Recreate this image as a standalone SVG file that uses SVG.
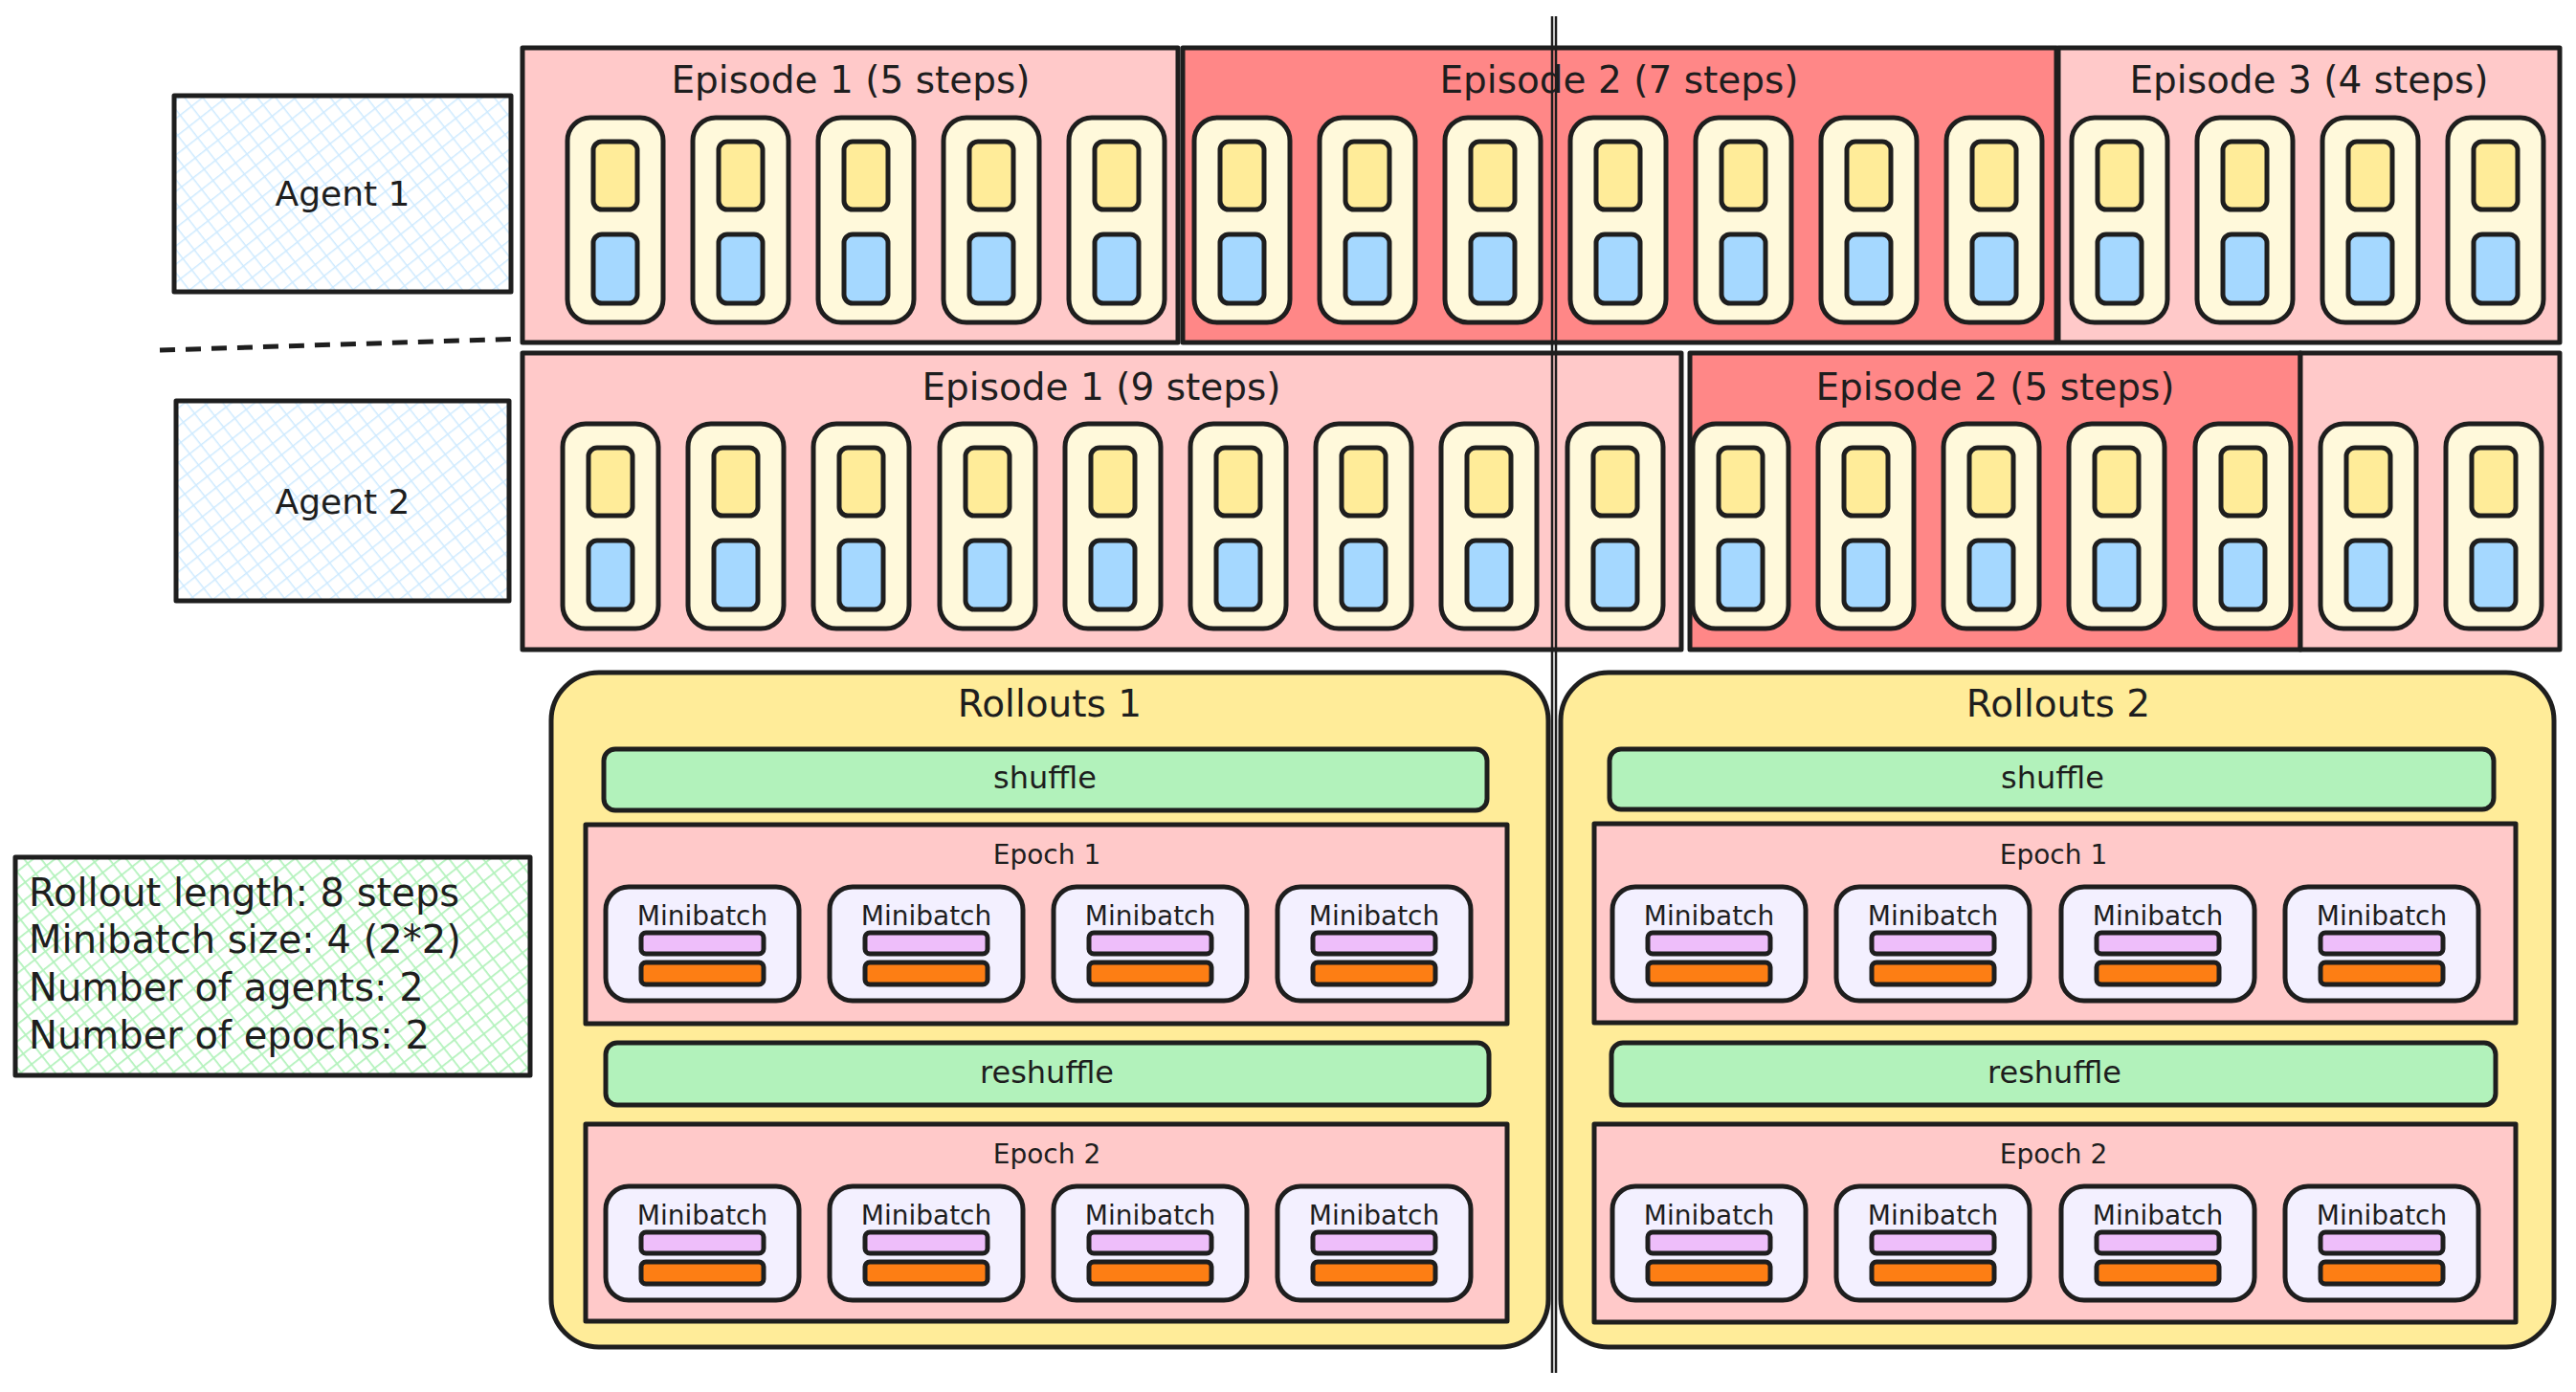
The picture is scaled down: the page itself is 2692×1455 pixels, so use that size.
<svg xmlns="http://www.w3.org/2000/svg" xmlns:xlink="http://www.w3.org/1999/xlink" width="2692" height="1455" viewBox="0 0 2692 1455">
<style>
.s{stroke:#1e1e1e;stroke-width:5;stroke-linejoin:round}
.pink{fill:#ffc9c9}.red{fill:#ff8787}.cell{fill:#fff9db}.yel{fill:#ffec99}.blu{fill:#a5d8ff}
.roll{fill:#ffec99}.grn{fill:#b2f2bb}.mb{fill:#f3f0ff}.pur{fill:#eebefa}.org{fill:#fd7e14}
text{font-family:"DejaVu Sans","Liberation Sans",sans-serif;fill:#1e1e1e;text-anchor:middle}
.t40{font-size:39px}.t36{font-size:36px}.t32{font-size:32px}.t28{font-size:28px}
.info{font-size:40px;text-anchor:start}
</style>
<defs>
<pattern id="hB" patternUnits="userSpaceOnUse" width="15" height="15" patternTransform="rotate(52)">
<rect width="15" height="15" fill="#ffffff"/>
<path d="M0 0H15M0 0V15" stroke="#a5d8ff" stroke-opacity="0.55" stroke-width="3"/>
</pattern>
<pattern id="hG" patternUnits="userSpaceOnUse" width="14" height="14" patternTransform="rotate(52)">
<rect width="14" height="14" fill="#ffffff"/>
<path d="M0 0H14M0 0V14" stroke="#b2f2bb" stroke-width="3.5"/>
</pattern>
<g id="cell">
<rect class="s cell" x="0" y="0" width="100" height="214" rx="24"/>
<rect class="s yel" x="27" y="25" width="46" height="71" rx="9"/>
<rect class="s blu" x="27" y="122" width="46" height="72" rx="9"/>
</g>
<g id="bars">
<rect class="s pur" x="37" y="48" width="128" height="22" rx="5"/>
<rect class="s org" x="37" y="79" width="128" height="23" rx="5"/>
</g>
</defs>
<rect width="2692" height="1455" fill="#ffffff"/>

<g id="agent1"><rect class="s" fill="url(#hB)" x="182" y="100" width="352" height="205"/><text class="t36" x="358" y="215">Agent 1</text></g>
<g id="agent2"><rect class="s" fill="url(#hB)" x="184" y="419" width="348" height="209"/><text class="t36" x="358" y="537">Agent 2</text></g>

<g id="a1-ep1"><rect class="s pink" x="546" y="50" width="685" height="308"/><text class="t40" x="889" y="97">Episode 1 (5 steps)</text></g>
<g id="a1-ep2"><rect class="s red" x="1236" y="50" width="913" height="308"/><text class="t40" x="1692" y="97">Episode 2 (7 steps)</text></g>
<g id="a1-ep3"><rect class="s pink" x="2151" y="50" width="524" height="308"/><text class="t40" x="2413" y="97">Episode 3 (4 steps)</text></g>

<g id="a2-ep1"><rect class="s pink" x="546" y="369" width="1211" height="310"/><text class="t40" x="1151" y="418">Episode 1 (9 steps)</text></g>
<g id="a2-ep2"><rect class="s red" x="1766" y="369" width="638" height="310"/><text class="t40" x="2085" y="418">Episode 2 (5 steps)</text></g>
<g id="a2-ep3"><rect class="s pink" x="2404" y="369" width="271" height="310"/></g>

<g id="a1-steps">
<use id="a1s1" href="#cell" x="593" y="123"/><use id="a1s2" href="#cell" x="724" y="123"/><use id="a1s3" href="#cell" x="855" y="123"/><use id="a1s4" href="#cell" x="986" y="123"/><use id="a1s5" href="#cell" x="1117" y="123"/>
<use id="a1s6" href="#cell" x="1248" y="123"/><use id="a1s7" href="#cell" x="1379" y="123"/><use id="a1s8" href="#cell" x="1510" y="123"/><use id="a1s9" href="#cell" x="1641" y="123"/><use id="a1s10" href="#cell" x="1772" y="123"/><use id="a1s11" href="#cell" x="1903" y="123"/><use id="a1s12" href="#cell" x="2034" y="123"/>
<use id="a1s13" href="#cell" x="2165" y="123"/><use id="a1s14" href="#cell" x="2296" y="123"/><use id="a1s15" href="#cell" x="2427" y="123"/><use id="a1s16" href="#cell" x="2558" y="123"/>
</g>
<g id="a2-steps">
<use id="a2s1" href="#cell" x="588" y="443"/><use id="a2s2" href="#cell" x="719" y="443"/><use id="a2s3" href="#cell" x="850" y="443"/><use id="a2s4" href="#cell" x="982" y="443"/><use id="a2s5" href="#cell" x="1113" y="443"/><use id="a2s6" href="#cell" x="1244" y="443"/><use id="a2s7" href="#cell" x="1375" y="443"/><use id="a2s8" href="#cell" x="1506" y="443"/><use id="a2s9" href="#cell" x="1638" y="443"/>
<use id="a2s10" href="#cell" x="1769" y="443"/><use id="a2s11" href="#cell" x="1900" y="443"/><use id="a2s12" href="#cell" x="2031" y="443"/><use id="a2s13" href="#cell" x="2162" y="443"/><use id="a2s14" href="#cell" x="2294" y="443"/>
<use id="a2s15" href="#cell" x="2425" y="443"/><use id="a2s16" href="#cell" x="2556" y="443"/>
</g>

<g id="rollouts1">
<rect class="s roll" x="576" y="703" width="1042" height="705" rx="50"/>
<text class="t40" x="1097" y="749">Rollouts 1</text>
<g id="r1-shuffle"><rect class="s grn" x="631" y="783" width="923" height="64" rx="12"/><text class="t32" x="1092" y="824">shuffle</text></g>
<g id="r1-epoch1"><rect class="s pink" x="612" y="862" width="963" height="208"/><text class="t28" x="1094" y="903">Epoch 1</text>
<g id="r1e1m1"><rect class="s mb" x="633" y="927" width="202" height="119" rx="24"/><text class="t28" x="734" y="967">Minibatch</text><use href="#bars" x="633" y="927"/></g>
<g id="r1e1m2"><rect class="s mb" x="867" y="927" width="202" height="119" rx="24"/><text class="t28" x="968" y="967">Minibatch</text><use href="#bars" x="867" y="927"/></g>
<g id="r1e1m3"><rect class="s mb" x="1101" y="927" width="202" height="119" rx="24"/><text class="t28" x="1202" y="967">Minibatch</text><use href="#bars" x="1101" y="927"/></g>
<g id="r1e1m4"><rect class="s mb" x="1335" y="927" width="202" height="119" rx="24"/><text class="t28" x="1436" y="967">Minibatch</text><use href="#bars" x="1335" y="927"/></g>
</g>
<g id="r1-reshuffle"><rect class="s grn" x="633" y="1090" width="923" height="65" rx="12"/><text class="t32" x="1094" y="1132">reshuffle</text></g>
<g id="r1-epoch2"><rect class="s pink" x="612" y="1175" width="963" height="206"/><text class="t28" x="1094" y="1216">Epoch 2</text>
<g id="r1e2m1"><rect class="s mb" x="633" y="1240" width="202" height="119" rx="24"/><text class="t28" x="734" y="1280">Minibatch</text><use href="#bars" x="633" y="1240"/></g>
<g id="r1e2m2"><rect class="s mb" x="867" y="1240" width="202" height="119" rx="24"/><text class="t28" x="968" y="1280">Minibatch</text><use href="#bars" x="867" y="1240"/></g>
<g id="r1e2m3"><rect class="s mb" x="1101" y="1240" width="202" height="119" rx="24"/><text class="t28" x="1202" y="1280">Minibatch</text><use href="#bars" x="1101" y="1240"/></g>
<g id="r1e2m4"><rect class="s mb" x="1335" y="1240" width="202" height="119" rx="24"/><text class="t28" x="1436" y="1280">Minibatch</text><use href="#bars" x="1335" y="1240"/></g>
</g>
</g>

<g id="rollouts2">
<rect class="s roll" x="1631" y="703" width="1038" height="705" rx="50"/>
<text class="t40" x="2151" y="749">Rollouts 2</text>
<g id="r2-shuffle"><rect class="s grn" x="1682" y="783" width="924" height="63" rx="12"/><text class="t32" x="2145" y="824">shuffle</text></g>
<g id="r2-epoch1"><rect class="s pink" x="1666" y="861" width="963" height="208"/><text class="t28" x="2146" y="903">Epoch 1</text>
<g id="r2e1m1"><rect class="s mb" x="1685" y="927" width="202" height="119" rx="24"/><text class="t28" x="1786" y="967">Minibatch</text><use href="#bars" x="1685" y="927"/></g>
<g id="r2e1m2"><rect class="s mb" x="1919" y="927" width="202" height="119" rx="24"/><text class="t28" x="2020" y="967">Minibatch</text><use href="#bars" x="1919" y="927"/></g>
<g id="r2e1m3"><rect class="s mb" x="2154" y="927" width="202" height="119" rx="24"/><text class="t28" x="2255" y="967">Minibatch</text><use href="#bars" x="2154" y="927"/></g>
<g id="r2e1m4"><rect class="s mb" x="2388" y="927" width="202" height="119" rx="24"/><text class="t28" x="2489" y="967">Minibatch</text><use href="#bars" x="2388" y="927"/></g>
</g>
<g id="r2-reshuffle"><rect class="s grn" x="1684" y="1090" width="924" height="65" rx="12"/><text class="t32" x="2147" y="1132">reshuffle</text></g>
<g id="r2-epoch2"><rect class="s pink" x="1666" y="1175" width="963" height="207"/><text class="t28" x="2146" y="1216">Epoch 2</text>
<g id="r2e2m1"><rect class="s mb" x="1685" y="1240" width="202" height="119" rx="24"/><text class="t28" x="1786" y="1280">Minibatch</text><use href="#bars" x="1685" y="1240"/></g>
<g id="r2e2m2"><rect class="s mb" x="1919" y="1240" width="202" height="119" rx="24"/><text class="t28" x="2020" y="1280">Minibatch</text><use href="#bars" x="1919" y="1240"/></g>
<g id="r2e2m3"><rect class="s mb" x="2154" y="1240" width="202" height="119" rx="24"/><text class="t28" x="2255" y="1280">Minibatch</text><use href="#bars" x="2154" y="1240"/></g>
<g id="r2e2m4"><rect class="s mb" x="2388" y="1240" width="202" height="119" rx="24"/><text class="t28" x="2489" y="1280">Minibatch</text><use href="#bars" x="2388" y="1240"/></g>
</g>
</g>

<g id="info">
<rect class="s" fill="url(#hG)" x="16" y="896" width="538" height="228"/>
<text class="info" x="30" y="947">Rollout length: 8 steps</text>
<text class="info" x="30" y="996">Minibatch size: 4 (2*2)</text>
<text class="info" x="30" y="1046">Number of agents: 2</text>
<text class="info" x="30" y="1096">Number of epochs: 2</text>
</g>

<g id="connectors" fill="none" stroke="#1e1e1e">
<path d="M167 366 L546 354" stroke-width="5" stroke-dasharray="16 11"/>
<path d="M1622 17 L1622 1435" stroke-width="2.5"/>
<path d="M1626 17 L1626 1435" stroke-width="2.5"/>
</g>
</svg>
